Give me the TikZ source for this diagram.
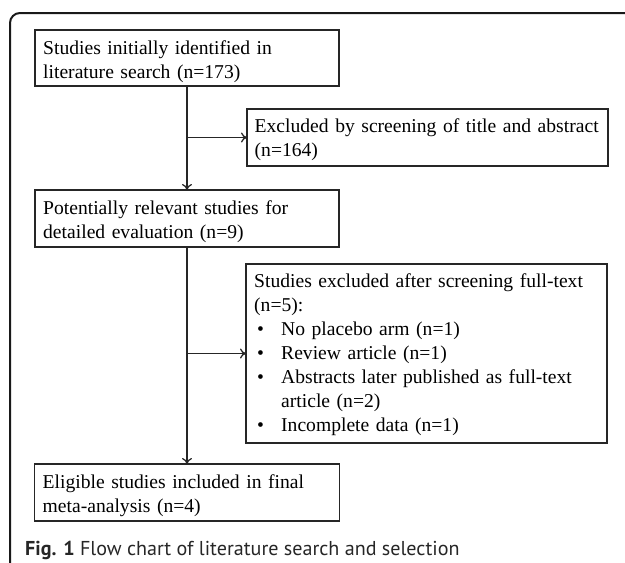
\documentclass[tikz,border=0pt]{standalone}
\usepackage{fontspec}
\setmainfont{Liberation Serif}
\newfontfamily\capfont{PT Sans}
\usetikzlibrary{arrows.meta}
\begin{document}
\begin{tikzpicture}[x=1pt,y=-1pt,
  boxstyle/.style={draw=black!85,line width=1.4pt,anchor=north west,inner sep=0pt,outer sep=0pt},
  txtstyle/.style={anchor=base west,inner sep=0pt,align=left,text width=#1,font=\fontsize{19.6}{24}\selectfont},
  flowline/.style={draw=black!85,line width=1.3pt},
  flowarrow/.style={flowline,-{To[length=6pt,width=10pt,line width=1.3pt]}}
]
\useasboundingbox (0,0) rectangle (625,563);
% outer frame
\draw[line width=2pt,black!90,rounded corners=10pt] (10,564) -- (10,13) -- (626,13);

\node[boxstyle,minimum width=304pt,minimum height=56pt] (b1) at (35,30) {};
\node[txtstyle=400pt] (t1) at ([shift={(8pt,-24pt)}]b1.north west) {Studies initially identified in\\literature search (n=173)};

\node[boxstyle,minimum width=361pt,minimum height=57pt] (b2) at (247,109) {};
\node[txtstyle=400pt] (t2) at ([shift={(7.5pt,-23.5pt)}]b2.north west) {Excluded by screening of title and abstract\\(n=164)};

\node[boxstyle,minimum width=304pt,minimum height=57pt] (b3) at (35,190) {};
\node[txtstyle=400pt] (t3) at ([shift={(8pt,-24pt)}]b3.north west) {Potentially relevant studies for\\detailed evaluation (n=9)};

\node[boxstyle,minimum width=361pt,minimum height=179pt] (b4) at (246,264) {};
\node[txtstyle=400pt] (t4) at ([shift={(8pt,-23.5pt)}]b4.north west) {Studies excluded after screening full-text\\(n=5):\\
\hspace*{3pt}\makebox[24pt][l]{\textbullet}No placebo arm (n=1)\\
\hspace*{3pt}\makebox[24pt][l]{\textbullet}Review article (n=1)\\
\hspace*{3pt}\makebox[24pt][l]{\textbullet}Abstracts later published as full-text\\
\hspace*{27pt}article (n=2)\\
\hspace*{3pt}\makebox[24pt][l]{\textbullet}Incomplete data (n=1)};

\node[boxstyle,minimum width=305pt,minimum height=57pt] (b5) at (34.5,464) {};
\node[txtstyle=400pt] (t5) at ([shift={(8pt,-24pt)}]b5.north west) {Eligible studies included in final\\meta-analysis (n=4)};

% connectors
\draw[flowarrow] (b1.south) -- (b3.north);
\coordinate (j1) at (b1.south |- b2.west);
\draw[flowarrow] (j1) -- (b2.west);
\draw[flowarrow] (b3.south) -- (b5.north);
\coordinate (j2) at (b3.south |- b4.west);
\draw[flowarrow] (j2) -- (b4.west);

% caption
\node[anchor=base west,inner sep=0pt,text=black!85,font=\capfont\fontsize{20.1}{24}\selectfont] (cap) at (25,555) {\textbf{Fig. 1} Flow chart of literature search and selection};
\end{tikzpicture}
\end{document}
